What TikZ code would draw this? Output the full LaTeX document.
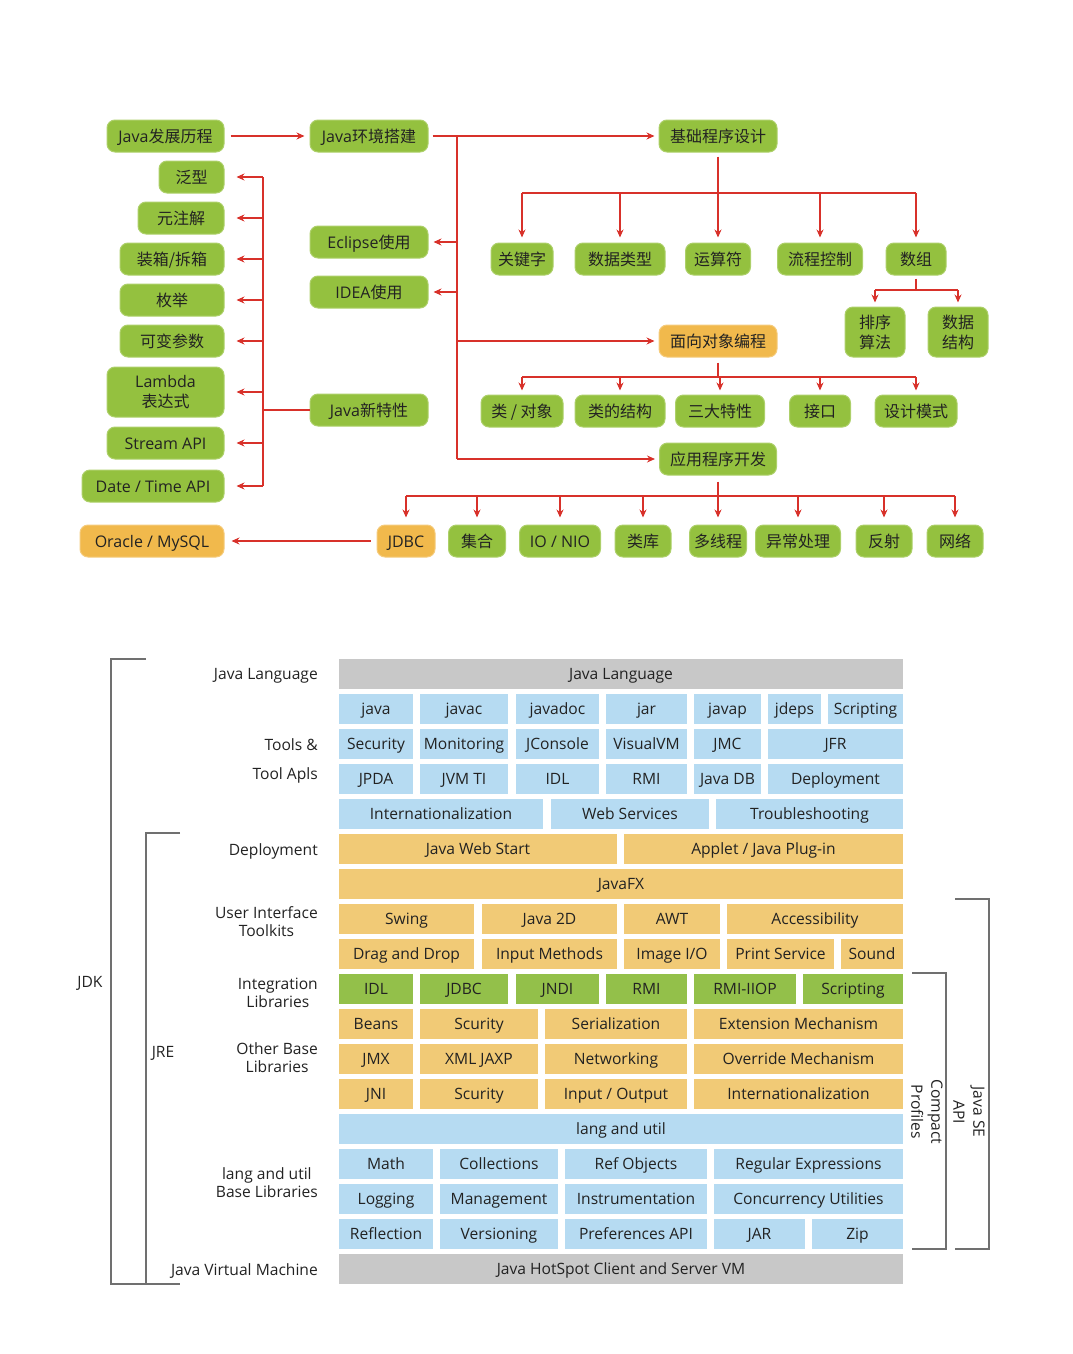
\documentclass[tikz,border=0pt]{standalone}
\usepackage{fontspec}
\setmainfont{Open Sans}
\newfontfamily\latinfont{Open Sans}
\newfontfamily\cjk{Noto Sans CJK SC}
\usetikzlibrary{arrows.meta}

\definecolor{nodegreen}{HTML}{94C13F}
\definecolor{greenedge}{HTML}{ADD06A}
\definecolor{nodeorange}{HTML}{F1B94C}
\definecolor{orangeedge}{HTML}{F5CB7C}
\definecolor{linkred}{HTML}{D8312A}
\definecolor{capgray}{HTML}{C8C8C8}
\definecolor{capblue}{HTML}{B6DBF2}
\definecolor{capyellow}{HTML}{F1CA76}
\definecolor{capgreen}{HTML}{93C04A}
\definecolor{brkgray}{HTML}{707070}
\definecolor{txt}{HTML}{222222}

\tikzset{
  pill/.style={rounded corners=8pt, fill=nodegreen, draw=greenedge, line width=1pt,
    minimum height=32, inner sep=0pt, align=center, text=txt,
    font=\cjk\fontsize{16}{20}\selectfont},
  gbox/.style={pill, text height=14pt, text depth=2pt},
  gbox2/.style={pill, minimum height=50},
  obox/.style={gbox, fill=nodeorange, draw=orangeedge},
  lat/.style={font=\latinfont\fontsize{16}{20}\selectfont},
  link/.style={draw=linkred, line width=1.3pt},
  arr/.style={link, -{Stealth[length=8pt,width=7pt]}},
  cell/.style={fill=#1, minimum height=30, inner sep=0pt, text=txt,
    text height=12.5pt, text depth=2.5pt},
  lbl2/.style={anchor=east, align=center, inner sep=0pt, text=txt},
  lbl/.style={lbl2, text height=12.5pt, text depth=2.5pt},
  brk/.style={draw=brkgray, line width=1.2pt},
}

\begin{document}
\begin{tikzpicture}[x=1pt, y=-1pt]
  \useasboundingbox (0,0) rectangle (1072,1354);

  % Learning path - first row
  \node[gbox, minimum width=117] (hist) at (165.5,136) {{\latinfont Java}发展历程};
  \node[gbox, minimum width=118] (env) at (369,136) {{\latinfont Java}环境搭建};
  \node[gbox, minimum width=118] (basic) at (718,136) {基础程序设计};
  % New features column
  \node[gbox, minimum width=65] (generic) at (191.5,177) {泛型};
  \node[gbox, minimum width=86] (annot) at (181,218) {元注解};
  \node[gbox, minimum width=104] (boxing) at (172,259) {装箱/拆箱};
  \node[gbox, minimum width=104] (enum) at (172,300) {枚举};
  \node[gbox, minimum width=104] (varargs) at (172,341) {可变参数};
  \node[gbox2, minimum width=117] (lambda) at (165.5,392) {{\latinfont Lambda}\\表达式};
  \node[gbox, lat, minimum width=117] (stream) at (165.5,443) {Stream API};
  \node[gbox, lat, minimum width=142] (datetime) at (153,486) {Date / Time API};
  \node[obox, lat, minimum width=144] (db) at (152,541) {Oracle / MySQL};
  % Tools and new features
  \node[gbox, minimum width=118] (eclipse) at (369,242) {{\latinfont Eclipse}使用};
  \node[gbox, minimum width=118] (idea) at (369,292) {{\latinfont IDEA}使用};
  \node[gbox, minimum width=118] (newfeat) at (369,410) {{\latinfont Java}新特性};
  % Basic programming
  \node[gbox, minimum width=62] (keyword) at (522,259) {关键字};
  \node[gbox, minimum width=90] (dtype) at (620,259) {数据类型};
  \node[gbox, minimum width=65] (oper) at (718,259) {运算符};
  \node[gbox, minimum width=85] (flow) at (820,259) {流程控制};
  \node[gbox, minimum width=60] (array) at (916,259) {数组};
  \node[gbox2, minimum width=60] (sort) at (875,332) {排序\\算法};
  \node[gbox2, minimum width=60] (dstruct) at (958,332) {数据\\结构};
  % Object oriented
  \node[obox, minimum width=118] (oop) at (718,341) {面向对象编程};
  \node[gbox, minimum width=82] (cls) at (522,411) {类 / 对象};
  \node[gbox, minimum width=90] (clsstruct) at (620,411) {类的结构};
  \node[gbox, minimum width=89] (three) at (720,411) {三大特性};
  \node[gbox, minimum width=61] (iface) at (820,411) {接口};
  \node[gbox, minimum width=82] (pattern) at (916,411) {设计模式};
  % Application development
  \node[gbox, minimum width=117] (app) at (718,459) {应用程序开发};
  \node[obox, lat, minimum width=58] (jdbc) at (406,541) {JDBC};
  \node[gbox, minimum width=57] (coll) at (477,541) {集合};
  \node[gbox, lat, minimum width=81] (io) at (560,541) {IO / NIO};
  \node[gbox, minimum width=56] (lib) at (643,541) {类库};
  \node[gbox, minimum width=57] (thread) at (718,541) {多线程};
  \node[gbox, minimum width=85] (except) at (798,541) {异常处理};
  \node[gbox, minimum width=56] (reflect) at (884,541) {反射};
  \node[gbox, minimum width=56] (net) at (955,541) {网络};

  % Main spine
  \coordinate (spine) at (457,136);
  \draw[arr, shorten <=6pt, shorten >=5pt] (hist) -- (env);
  \draw[arr, shorten <=4pt, shorten >=4pt] (env) -- (basic);
  \draw[link] (spine) -- (spine |- app);
  \draw[arr, shorten >=5pt] (spine |- eclipse) -- (eclipse);
  \draw[arr, shorten >=5pt] (spine |- idea) -- (idea);
  \draw[arr, shorten >=4pt] (spine |- oop) -- (oop);
  \draw[arr, shorten >=4pt] (spine |- app) -- (app);
  % New features fork
  \coordinate (nf) at (263,410);
  \draw[link] (newfeat) -- (nf);
  \draw[link] (nf |- generic) -- (nf |- datetime);
  \foreach \n in {generic,annot,boxing,enum,varargs,lambda,stream,datetime}
    \draw[arr, shorten >=12pt] (nf |- \n) -- (\n.east);
  % Basic programming fork
  \coordinate (bb) at (718,193);
  \draw[link, shorten <=4pt] (basic) -- (bb);
  \draw[link] (bb -| keyword) -- (bb -| array);
  \foreach \n in {keyword,dtype,oper,flow,array}
    \draw[arr, shorten >=5pt] (bb -| \n) -- (\n.north);
  \coordinate (ab) at (916,290);
  \draw[link, shorten <=3pt] (array) -- (ab);
  \draw[link] (ab -| sort) -- (ab -| dstruct);
  \foreach \n in {sort,dstruct}
    \draw[arr, shorten >=4pt] (ab -| \n) -- (\n.north);
  % Object oriented fork
  \coordinate (ob) at (718,377);
  \draw[link, shorten <=5pt] (oop) -- (ob);
  \draw[link] (ob -| cls) -- (ob -| pattern);
  \foreach \n in {cls,clsstruct,three,iface,pattern}
    \draw[arr, shorten >=4pt] (ob -| \n) -- (\n.north);
  % Application fork
  \coordinate (pb) at (718,496);
  \draw[link, shorten <=6pt] (app) -- (pb);
  \draw[link] (pb -| jdbc) -- (pb -| net);
  \foreach \n in {jdbc,coll,io,lib,thread,except,reflect,net}
    \draw[arr, shorten >=7pt] (pb -| \n) -- (\n.north);
  \draw[arr, shorten <=6pt, shorten >=7pt] (jdbc) -- (db);

  % Platform diagram
  \begin{scope}[font=\latinfont\fontsize{15.6}{18}\selectfont]
    % Java language and tools
    \node[cell=capgray, minimum width=564] (lang) at (621,674) {Java Language};
    \foreach \l/\r/\t in {339/413/java, 420/508/javac, 516/599/javadoc, 606/687/jar, 694/761/javap, 768/821/jdeps, 828/903/Scripting}
      \node[cell=capblue, minimum width=\r-\l] (t1-\l) at ({(\l+\r)/2},709) {\t};
    \foreach \l/\r/\t in {339/413/Security, 420/508/Monitoring, 516/599/JConsole, 606/687/VisualVM, 694/761/JMC, 768/903/JFR}
      \node[cell=capblue, minimum width=\r-\l] (t2-\l) at ({(\l+\r)/2},744) {\t};
    \foreach \l/\r/\t in {339/413/JPDA, 420/508/JVM TI, 516/599/IDL, 606/687/RMI, 694/761/Java DB, 768/903/Deployment}
      \node[cell=capblue, minimum width=\r-\l] (t3-\l) at ({(\l+\r)/2},779) {\t};
    \foreach \l/\r/\t in {339/543/Internationalization, 551/709/Web Services, 716/903/Troubleshooting}
      \node[cell=capblue, minimum width=\r-\l] (t4-\l) at ({(\l+\r)/2},814) {\t};
    % Deployment and user interface
    \foreach \l/\r/\t in {339/617/Java Web Start, 624/903/{Applet / Java Plug-in}}
      \node[cell=capyellow, minimum width=\r-\l] (d-\l) at ({(\l+\r)/2},849) {\t};
    \node[cell=capyellow, minimum width=564] (fx) at (621,884) {JavaFX};
    \foreach \l/\r/\t in {339/474/Swing, 482/617/Java 2D, 624/720/AWT, 727/903/Accessibility}
      \node[cell=capyellow, minimum width=\r-\l] (u1-\l) at ({(\l+\r)/2},919) {\t};
    \foreach \l/\r/\t in {339/474/Drag and Drop, 482/617/Input Methods, 624/720/{Image I/O}, 727/834/Print Service, 841/903/Sound}
      \node[cell=capyellow, minimum width=\r-\l] (u2-\l) at ({(\l+\r)/2},954) {\t};
    % Integration libraries
    \foreach \l/\r/\t in {339/413/IDL, 420/508/JDBC, 516/599/JNDI, 606/687/RMI, 694/796/RMI-IIOP, 803/903/Scripting}
      \node[cell=capgreen, minimum width=\r-\l] (i-\l) at ({(\l+\r)/2},989) {\t};
    % Other base libraries
    \foreach \l/\r/\t in {339/413/Beans, 420/538/Scurity, 545/687/Serialization, 694/903/Extension Mechanism}
      \node[cell=capyellow, minimum width=\r-\l] (o1-\l) at ({(\l+\r)/2},1024) {\t};
    \foreach \l/\r/\t in {339/413/JMX, 420/538/XML JAXP, 545/687/Networking, 694/903/Override Mechanism}
      \node[cell=capyellow, minimum width=\r-\l] (o2-\l) at ({(\l+\r)/2},1059) {\t};
    \foreach \l/\r/\t in {339/413/JNI, 420/538/Scurity, 545/687/{Input / Output}, 694/903/Internationalization}
      \node[cell=capyellow, minimum width=\r-\l] (o3-\l) at ({(\l+\r)/2},1094) {\t};
    % lang and util
    \node[cell=capblue, minimum width=564] (lu) at (621,1129) {lang and util};
    \foreach \l/\r/\t in {339/433/Math, 440/558/Collections, 565/707/Ref Objects, 714/903/Regular Expressions}
      \node[cell=capblue, minimum width=\r-\l] (b1-\l) at ({(\l+\r)/2},1164) {\t};
    \foreach \l/\r/\t in {339/433/Logging, 440/558/Management, 565/707/Instrumentation, 714/903/Concurrency Utilities}
      \node[cell=capblue, minimum width=\r-\l] (b2-\l) at ({(\l+\r)/2},1199) {\t};
    \foreach \l/\r/\t in {339/433/Reflection, 440/558/Versioning, 565/707/Preferences API, 714/805/JAR, 812/903/Zip}
      \node[cell=capblue, minimum width=\r-\l] (b3-\l) at ({(\l+\r)/2},1234) {\t};
    \node[cell=capgray, minimum width=564] (vm) at (621,1269) {Java HotSpot Client and Server VM};

    % Row labels
    \node[lbl] (l-lang) at (318,674) {Java Language};
    \node[lbl] (l-tools) at (318,745) {Tools \&};
    \node[lbl] (l-apis) at (318,774) {Tool Apls};
    \node[lbl] (l-deploy) at (318,850) {Deployment};
    \node[lbl2] (l-ui) at (318,922) {User Interface\\Toolkits};
    \node[lbl2] (l-integ) at (318,993) {Integration\\Libraries};
    \node[lbl2] (l-other) at (318,1058) {Other Base\\Libraries};
    \node[lbl2] (l-base) at (318,1183) {lang and util\\Base Libraries};
    \node[lbl] (l-jvm) at (318,1270) {Java Virtual Machine};

    % Brackets
    \draw[brk] (146,659) -- (111,659) -- (111,1284) -- (180,1284);
    \draw[brk] (180,833) -- (146,833) -- (146,1284);
    \draw[brk] (912,973) -- (946,973) -- (946,1249) -- (912,1249);
    \draw[brk] (955,899) -- (989,899) -- (989,1249) -- (955,1249);
    \node[text=txt] (jdk) at (90,983) {JDK};
    \node[text=txt] (jre) at (163,1053) {JRE};
    \node[text=txt, rotate=-90, align=center, font=\latinfont\fontsize{15.6}{20}\selectfont] (cp) at (927,1112) {Compact\\Profiles};
    \node[text=txt, rotate=-90, align=center, font=\latinfont\fontsize{15.6}{20}\selectfont] (se) at (969,1112) {Java SE\\API};
  \end{scope}
\end{tikzpicture}
\end{document}
